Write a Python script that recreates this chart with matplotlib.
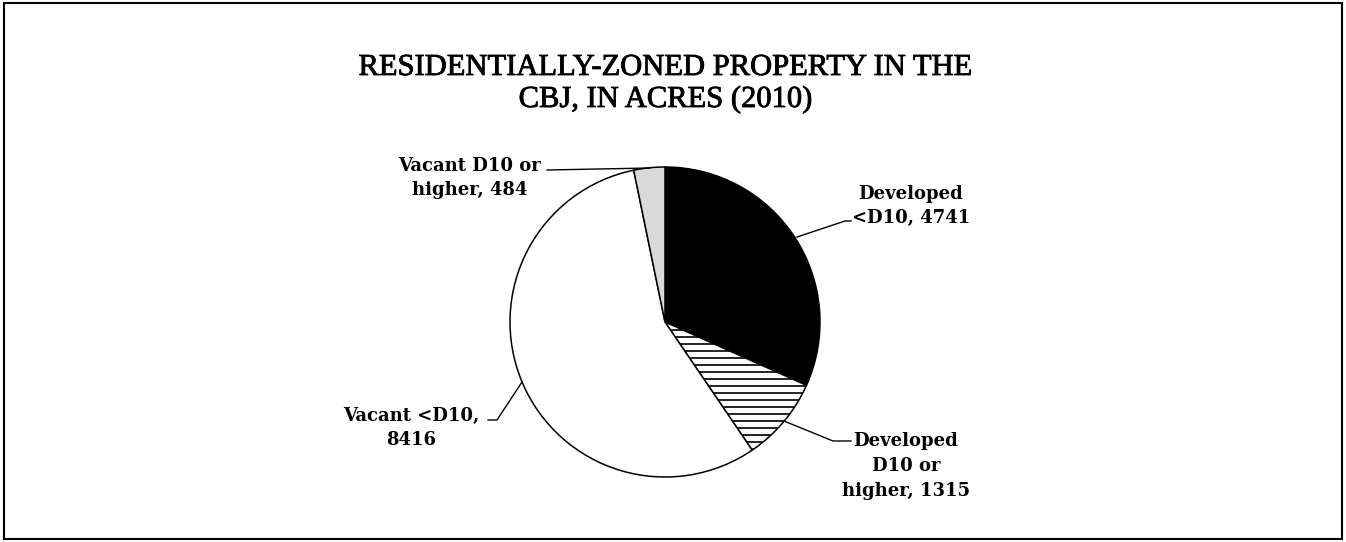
import matplotlib.pyplot as plt
import matplotlib.patches as mpatches
import matplotlib.patheffects as pe
import numpy as np

labels = ["Developed\n<D10, 4741", "Developed\nD10 or\nhigher, 1315",
          "Vacant <D10,\n8416", "Vacant D10 or\nhigher, 484"]
acres = [4741, 1315, 8416, 484]
colors = ["#000000", "#ffffff", "#ffffff", "#d9d9d9"]
hatched = [False, True, False, False]

W, H = 1346, 542
fig = plt.figure(figsize=(W / 100, H / 100), dpi=100)
ax = fig.add_axes([0, 0, 1, 1])

# frame around chart
fig.patches.append(mpatches.Rectangle((0.003, 0.006), 0.994, 0.988, transform=fig.transFigure,
                                      fill=False, edgecolor='black', linewidth=1.5))

cx, cy, r = 665, 220, 155
wedges, _ = ax.pie(acres, startangle=90, counterclock=False, colors=colors,
                   center=(cx, cy), radius=r,
                   wedgeprops=dict(edgecolor='black', linewidth=1.1))
# horizontal line fill for the hatched slice
for w, h in zip(wedges, hatched):
    if h:
        ys = np.arange(cy - r, cy + r, 7.0)
        lc = ax.hlines(ys, cx - r, cx + r, color='black', lw=1.2, zorder=w.get_zorder() + 0.1)
        lc.set_clip_path(w)
ax.set_xlim(0, W)
ax.set_ylim(0, H)
ax.set_aspect('equal')
ax.axis('off')

title_font = dict(ha='center', va='baseline', fontsize=22, family='Liberation Serif',
                  path_effects=[pe.withStroke(linewidth=0.6, foreground='black')])
fig.text(665 / W, 1 - 75 / H, "RESIDENTIALLY-ZONED PROPERTY IN THE", **title_font)
fig.text(665 / W, 1 - 107 / H, "CBJ, IN ACRES (2010)", **title_font)

lab_font = dict(family='DejaVu Serif', weight='bold', fontsize=13, ha='center', va='center')
# label text positions and leader lines (pixel coords, y up)
ax.text(911, 336, labels[0], linespacing=1.42, **lab_font)
ax.plot([797, 845, 851], [305, 321, 321], color='black', lw=1)

ax.text(906, 76, labels[1], linespacing=1.47, **lab_font)
ax.plot([784, 833, 851], [121, 101, 101], color='black', lw=1)

ax.text(411, 114, labels[2], linespacing=1.42, **lab_font)
ax.plot([522, 497, 488], [160, 122, 122], color='black', lw=1)

ax.text(470, 364, labels[3], linespacing=1.42, **lab_font)
ax.plot([547, 650], [372, 374], color='black', lw=1)

fig.savefig("out.png", dpi=100)
